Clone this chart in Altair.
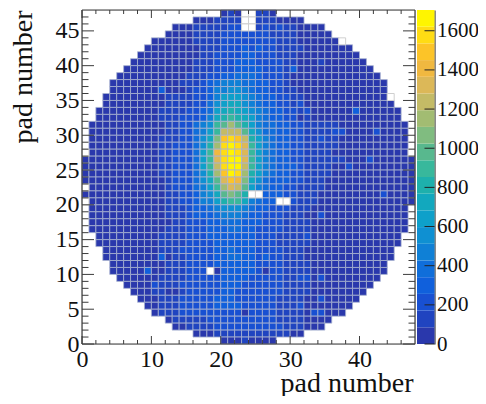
import altair as alt
import pandas as pd

# colour level of every pad, top row (pad 47) first; '-' no pad, '.' dead pad,
# 0-9 a-j = colour band
rows = [
"-------- -------- ----010. .110---- -------- --------",
"-------- -------- 0001111. .1110000 -------- --------",
"-------- -----000 1111122. .1212110 000----- --------",
"-------- ----0000 11112222 22211110 0000---- --------",
"-------- --000000 11112222 22221110 00000.-- --------",
"-------- -0000000 01112223 23221111 0000000- --------",
"-------- 00000000 01122223 32221110 00000000 --------",
"-------0 00000000 11122233 32222110 00100000 0-------",
"------00 00000000 11122233 33222130 00000000 00------",
"-----000 00000001 11223344 43222100 00000000 000-----",
"----0000 00000011 12345554 43322100 00000000 0000----",
"----0000 00030001 22355665 43322110 00000000 0000----",
"---00000 00001111 22357776 54332211 00000000 0000.---",
"---00000 00001111 22467886 54332212 00000000 00000---",
"--000000 00011112 23478987 65433221 20000003 000000--",
"--000000 00011122 23589a98 75433220 10000000 000000--",
"-0000000 00001122 456abdb9 75443322 11111000 0000000-",
"-0000000 00001122 457aeeeb 86443322 11112200 0020000-",
"-0000000 00011122 468chihe 97543322 11211000 0000000-",
"-0000000 00011222 469dijif a7543322 11111000 0000000-",
".0000000 00011222 47agijif a7543322 11110000 0000000.",
"00000000 00011222 47afijjf a7543322 11111100 02000000",
"00000000 00011222 47aeijje a7543332 11110020 00000000",
"00000000 00011222 469dhjid 97543322 11110000 00000000",
"00000000 00001222 468bfhgc 86433322 11100000 00000000",
".0000000 00001222 457adfeb 75433221 11100000 00000000",
"00000000 00001122 3568bcb9 ..333221 11000000 00020000",
".0000000 00001122 35579aa8 5433..21 11000000 00000000",
"-0000000 00001112 33456665 43322211 10000000 0000000-",
"-0000000 00001112 33345554 33222111 00200000 0000000-",
"-0000000 00000112 22334443 33222111 10000000 0000000-",
"-0000000 00001112 22333443 32222111 10000000 0000000-",
"--000000 00011112 22333333 32221111 20000000 000000--",
"--000000 00011112 22233333 32221111 10000000 000000--",
"---00000 00011122 22233433 32222111 00000000 00000---",
"---00000 00030112 22233443 32322111 00000000 00000---",
"----0000 00001112 22233333 32222111 10000000 0000----",
"----0000 03001112 22.03333 32022111 10000000 0000----",
"-----000 00011112 22223333 22222112 20200000 000-----",
"------00 00211122 22223332 22222111 10000000 00------",
"-------0 00110012 22223322 22222111 10000000 0-------",
"-------- 00011122 22233322 22221111 00200000 --------",
"-------- -0011122 22233332 22221112 0000000- --------",
"-------- --011122 22222220 22221111 022000-- --------",
"-------- ----0111 11222222 22221111 0000---- --------",
"-------- -----001 11122222 22222111 000----- --------",
"-------- -------- 00011111 11111100 -------- --------",
"-------- -------- ----0001 0000---- -------- --------",
]
palette = ["#2a38ac", "#2044c0", "#1850d2", "#1060dc", "#106eda",
           "#0f80d6", "#0f90d2", "#0ea0ca", "#12a8be", "#1eb0ac",
           "#38b89c", "#58b88e", "#80bc80", "#a2bc72", "#c4bb66",
           "#dcb858", "#f0b840", "#fcc428", "#ffdc14", "#fff500"]
z_top = 1706
x_major = [0, 10, 20, 30, 40]
x_minor = [2, 4, 6, 8, 12, 14, 16, 18, 22, 24, 26, 28, 32, 34, 36, 38, 42, 44, 46]
y_major = [0, 5, 10, 15, 20, 25, 30, 35, 40, 45]
y_minor = [v for v in range(48) if v % 5]
z_ticks = [0, 200, 400, 600, 800, 1000, 1200, 1400, 1600]

W, H = 333, 334
BAR_R = 19.5
SERIF = "Liberation Serif"
FRAME = "#3c3c3c"
band = z_top / len(palette)

cells, dead = [], []
for r, row in enumerate(rows):
    y = 47 - r
    for c, ch in enumerate(row.replace(" ", "")):
        if ch == "-":
            continue
        if ch == ".":
            dead.append({"x": c, "x1": c + 1, "y": y, "y1": y + 1})
        else:
            cells.append({"x": c, "x1": c + 1, "y": y, "y1": y + 1,
                          "v": (int(ch, 36) + 0.5) * band})

xs = alt.Scale(domain=[0, 48], nice=False, zero=False)
ys = alt.Scale(domain=[0, 48], nice=False, zero=False)
zs = alt.Scale(domain=[0, z_top], nice=False, zero=False)
cs = alt.Scale(type="quantize", domain=[0, z_top], range=palette, nice=False)

x_axis = alt.Axis(values=x_major, tickSize=0, domain=False, grid=False,
                  labelFont=SERIF, labelFontSize=24, labelColor="#111",
                  labelPadding=3, labelFlush=False, labelBound=False,
                  labelOverlap=False, format="d",
                  title="pad number", titleFont=SERIF, titleFontSize=28,
                  titleFontWeight="normal", titleColor="#111",
                  titleAlign="right", titleBaseline="alphabetic",
                  titleX=331, titleY=47)
y_axis = alt.Axis(values=y_major, tickSize=0, domain=False, grid=False,
                  labelFont=SERIF, labelFontSize=24, labelColor="#111",
                  labelPadding=3, labelFlush=False, labelBound=False,
                  labelOverlap=False, format="d",
                  title="pad number", titleFont=SERIF, titleFontSize=28,
                  titleFontWeight="normal", titleColor="#111", titleAnchor="end",
                  titlePadding=18)
z_axis = alt.Axis(orient="right", offset=BAR_R, values=z_ticks, tickSize=0, domain=True,
                  domainColor=FRAME, domainWidth=1.2, grid=False, title=None,
                  labelFont=SERIF, labelFontSize=21, labelColor="#111",
                  labelPadding=2, labelFlush=False, labelBound=False,
                  labelOverlap=False, format="d")

bands = pd.DataFrame({"lo": [i * band for i in range(len(palette))],
                      "hi": [(i + 1) * band for i in range(len(palette))],
                      "v": [(i + 0.5) * band for i in range(len(palette))]})

heat = alt.Chart(pd.DataFrame(cells)).mark_rect(
    stroke="#aab4d0", strokeWidth=0.8
).encode(
    x=alt.X("x:Q", scale=xs, axis=x_axis),
    x2="x1:Q",
    y=alt.Y("y:Q", scale=ys, axis=y_axis),
    y2="y1:Q",
    color=alt.Color("v:Q", scale=cs, legend=None),
)
dead_layer = alt.Chart(pd.DataFrame(dead)).mark_rect(
    fill="white", stroke="#cfcfcf", strokeWidth=1
).encode(x=alt.X("x:Q", scale=xs, axis=None), x2="x1:Q",
         y=alt.Y("y:Q", scale=ys, axis=None), y2="y1:Q")


def xticks(vals, length):
    d = pd.DataFrame({"t": vals})
    base = alt.Chart(d).mark_rule(color=FRAME, strokeWidth=1)
    e = alt.X("t:Q", scale=xs, axis=None)
    return base.encode(x=e, y=alt.value(H), y2=alt.value(H - length)) + \
        base.encode(x=e, y=alt.value(0), y2=alt.value(length))


def yticks(vals, length):
    d = pd.DataFrame({"t": vals})
    base = alt.Chart(d).mark_rule(color=FRAME, strokeWidth=1)
    e = alt.Y("t:Q", scale=ys, axis=None)
    return base.encode(y=e, x=alt.value(0), x2=alt.value(length)) + \
        base.encode(y=e, x=alt.value(W), x2=alt.value(W - length))


frame = alt.Chart(pd.DataFrame({"a": [0]})).mark_rule(color=FRAME, strokeWidth=1.2)
frames = (frame.encode(x=alt.value(0), x2=alt.value(W), y=alt.value(0)) +
          frame.encode(x=alt.value(0), x2=alt.value(W), y=alt.value(H)) +
          frame.encode(y=alt.value(0), y2=alt.value(H), x=alt.value(0)) +
          frame.encode(y=alt.value(0), y2=alt.value(H), x=alt.value(W)))

bar = alt.Chart(bands).mark_rect().encode(
    x=alt.value(W + 2), x2=alt.value(W + BAR_R),
    y=alt.Y("lo:Q", scale=zs, axis=z_axis), y2="hi:Q",
    color=alt.Color("v:Q", scale=cs, legend=None),
)
bar_ticks = alt.Chart(pd.DataFrame({"t": z_ticks})).mark_rule(color="#222", strokeWidth=1).encode(
    y=alt.Y("t:Q", scale=zs, axis=None), x=alt.value(W + BAR_R - 10), x2=alt.value(W + BAR_R))

chart = alt.layer(
    heat, dead_layer, xticks(x_major, 8), xticks(x_minor, 4),
    yticks(y_major, 12), yticks(y_minor, 6.5), frames, bar, bar_ticks
).resolve_scale(y="independent").resolve_axis(x="independent", y="independent").properties(
    width=W, height=H, autosize=alt.AutoSizeParams(type="none"),
    padding={"left": 74, "top": 2, "right": 63, "bottom": 52},
).configure_view(stroke=None).configure(background="white")

chart.save("out.html", embed_options={"renderer": "svg", "actions": False})
